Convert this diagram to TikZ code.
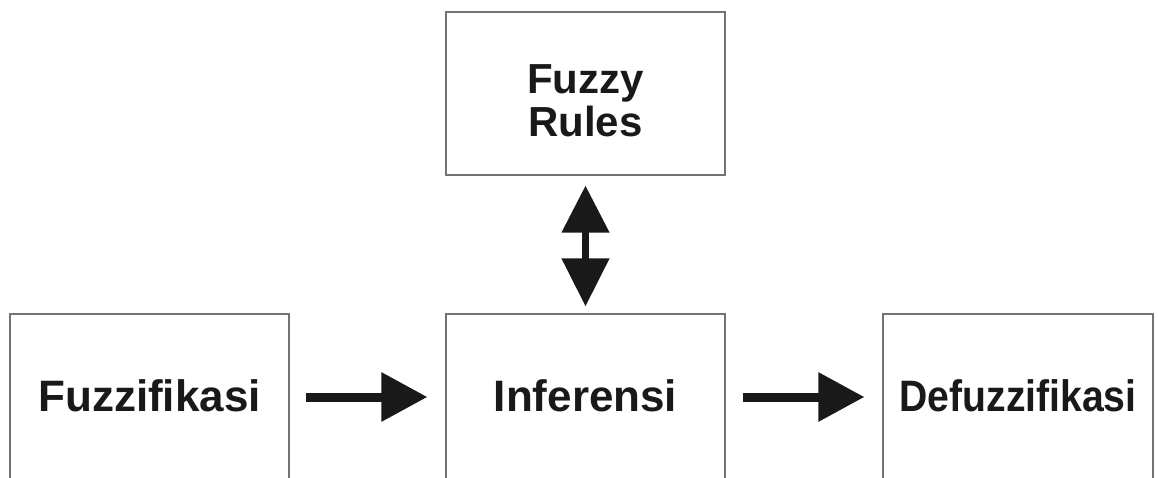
\documentclass[tikz,border=0pt]{standalone}
\usepackage{fontspec}
\setmainfont{Liberation Sans}
\usetikzlibrary{arrows.meta}
\begin{document}
\begin{tikzpicture}[x=1pt,y=-1pt,
  box/.style={draw=black!55, line width=1.1pt, minimum width=279pt, minimum height=170pt,
    inner sep=0pt, font=\fontsize{44}{44}\selectfont\bfseries, text=black!90,
    text height=31.5pt, text depth=6pt},
  lbl/.style={inner sep=0pt, align=center, font=\fontsize{42}{43}\selectfont\bfseries, text=black!90},
  flow/.style={line width=9pt, draw=black!90, -{Triangle[length=46pt,width=47pt]}},
  twoway/.style={line width=7.5pt, draw=black!90, {Triangle[length=47pt,width=46pt]}-{Triangle[length=48pt,width=46pt]}}
]
\useasboundingbox (0,0) rectangle (1158,477);
\clip (0,0) rectangle (1158,477);
\node[box] (fuzz) at (149.5,399) {Fuzzifikasi};
\node[box] (inf) at (585.5,399) {Inferensi};
\node[box, minimum width=270pt] (defuzz) at (1018,399) {\scalebox{0.89}[1]{Defuzzifikasi}};
\node[box, minimum height=163pt] (rules) at (585.5,93.5) {};
\node[lbl] (rulestext) at (585.5,101) {Fuzzy\\Rules};
\draw[flow, shorten <=16pt, shorten >=18pt] (fuzz.east |- 0,397) coordinate (a1) -- (inf.west |- 0,397);
\draw[flow, shorten <=17pt, shorten >=18pt] (inf.east |- 0,397) -- (defuzz.west |- 0,397);
\draw[twoway, shorten <=10pt, shorten >=7pt] (rules) -- (inf);
\end{tikzpicture}
\end{document}
